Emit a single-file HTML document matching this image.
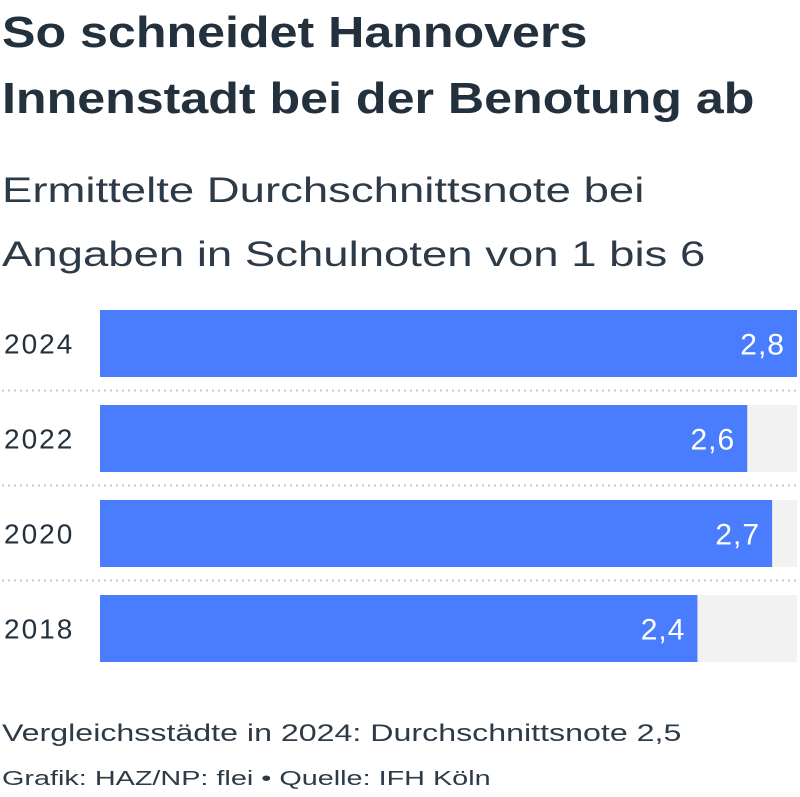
<!DOCTYPE html>
<html><head><meta charset="utf-8"><style>
body{margin:0;width:800px;height:797px;background:#fff;font-family:"Liberation Sans",sans-serif;color:#23303e;overflow:hidden;position:relative}
.t{position:absolute;left:2px;white-space:nowrap;transform-origin:0 0}
</style></head><body>
<div class="t" style="top:0px;font-size:44px;font-weight:bold;line-height:66px;transform:scaleX(1.14)">So schneidet Hannovers<br>Innenstadt bei der Benotung ab</div>
<div class="t" style="top:159px;font-size:35px;line-height:64px;color:#2d3a48;transform:scaleX(1.30)">Ermittelte Durchschnittsnote bei<br>Angaben in Schulnoten von 1 bis 6</div>
<svg id="c" width="800" height="700" style="position:absolute;left:0;top:0"></svg>
<div class="t" style="top:720px;font-size:24px;color:#2d3a48;transform:scaleX(1.34)">Vergleichsstädte in 2024: Durchschnittsnote 2,5</div>
<div class="t" style="top:768px;font-size:20px;color:#2d3a48;transform:scaleX(1.44)">Grafik: HAZ/NP: flei • Quelle: IFH Köln</div>
<script>
const categories=["2024","2022","2020","2018"];
const values=[2.8,2.6,2.7,2.4];
const labels=["2,8","2,6","2,7","2,4"];
const svg=document.getElementById('c');
const NS="http://www.w3.org/2000/svg";
const x0=100,x1=797,maxV=2.8,top0=310,step=95,bh=67;
const xs=v=>x0+(x1-x0)*v/maxV;
function mk(t,a){const e=document.createElementNS(NS,t);for(const k in a)e.setAttribute(k,a[k]);svg.appendChild(e);return e;}
categories.forEach((c,i)=>{
 const y=top0+i*step;
 const tr=mk('rect',{x:x0,y:y,width:x1-x0,height:bh,fill:'#f2f2f2'});
 
 
 const b=mk('rect',{x:x0,y:y,width:xs(values[i])-x0,height:bh,fill:'#4a7dfd'});
 
 
 const l=mk('text',{x:4,y:y+bh/2+10,'font-size':28,'letter-spacing':2,fill:'#23303e','font-family':'Liberation Sans, sans-serif'});
 l.textContent=c;
 
 
 const v=mk('text',{x:xs(values[i])-12,y:y+bh/2+11,'font-size':30,'letter-spacing':1,fill:'#fff','text-anchor':'end','font-family':'Liberation Sans, sans-serif'});
 v.textContent=labels[i];
 
 
 if(i<categories.length-1){
  const d=mk('line',{x1:2,x2:797,y1:y+bh+13.5,y2:y+bh+13.5,stroke:'#c8c8c8','stroke-width':2,'stroke-dasharray':'2 4'});
  
  
 }
});
</script>
</body></html>
